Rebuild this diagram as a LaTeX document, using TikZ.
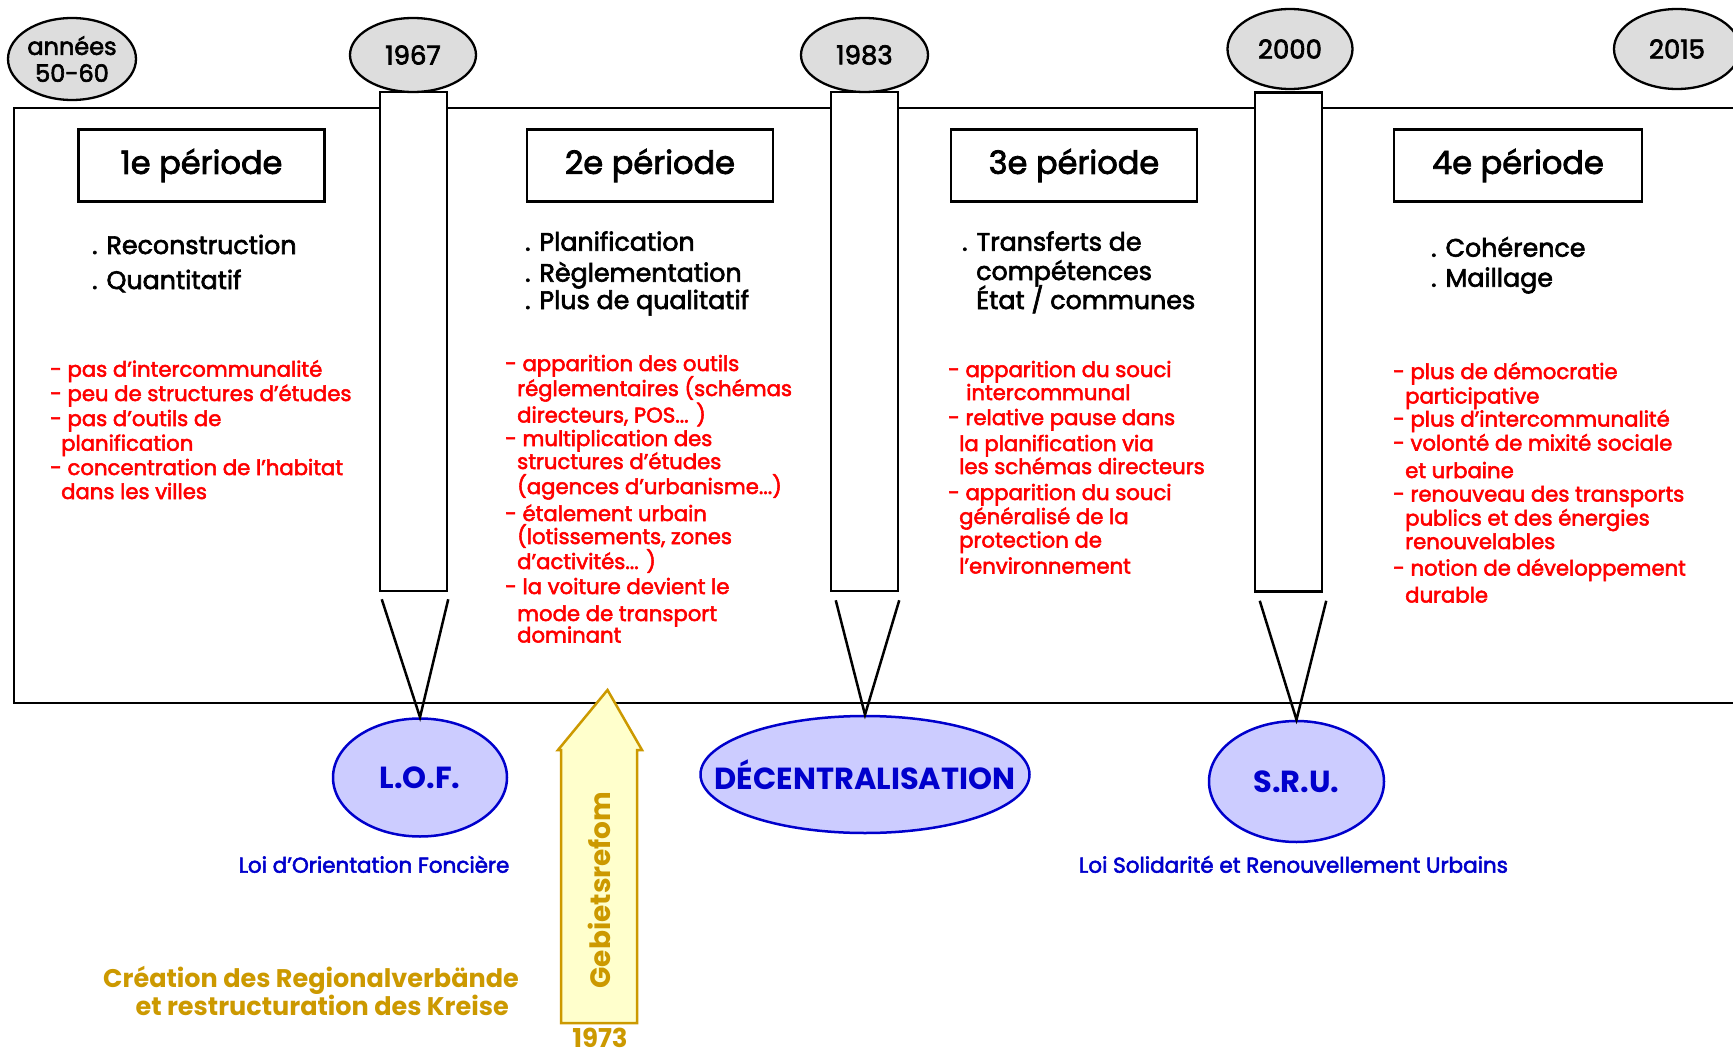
\documentclass[tikz,border=0pt]{standalone}
\usepackage{fontspec}
\usetikzlibrary{shapes.geometric,calc}
\setmainfont{Poppins}
\newfontfamily\medfont{Poppins}[FakeBold=2.5]
\newcommand\tdots{...}
\definecolor{yeargray}{RGB}{221,221,221}
\definecolor{redc}{RGB}{255,0,0}
\definecolor{lawblue}{RGB}{0,0,204}
\definecolor{lawfill}{RGB}{204,204,255}
\definecolor{goldc}{RGB}{204,153,0}
\definecolor{goldfill}{RGB}{255,255,204}
\tikzset{
  yearell/.style={ellipse, draw=black, line width=2.3pt, fill=yeargray, inner sep=0pt,
    font=\medfont\fontsize{26}{27}\selectfont, align=center},
  pillar/.style={rectangle, draw=black, line width=2.5pt, fill=white, inner sep=0pt},
  periodbox/.style={rectangle, draw=black, line width=2.5pt, fill=white, inner sep=0pt,
    minimum width=246pt, minimum height=72pt, font=\medfont\fontsize{32}{34}\selectfont},
  blacktxt/.style={anchor=base west, inner sep=0pt, font=\medfont\fontsize{25.3}{28}\selectfont},
  redtxt/.style={anchor=base west, inner sep=0pt, text=redc, font=\medfont\fontsize{21.2}{24}\selectfont},
  lawell/.style={ellipse, draw=lawblue, line width=2.5pt, fill=lawfill, inner sep=0pt,
    text=lawblue, font=\rmfamily\bfseries\fontsize{30.5}{32}\selectfont},
  lawcap/.style={anchor=base, inner sep=0pt, text=lawblue, font=\medfont\fontsize{21.5}{24}\selectfont},
  goldtxt/.style={inner sep=0pt, text=goldc, font=\rmfamily\bfseries\fontsize{25.5}{28.5}\selectfont},
  goldline/.style={draw=goldc, line width=2.5pt, fill=goldfill, line join=miter},
  vline/.style={draw=black, line width=2.5pt},
}
\begin{document}
\begin{tikzpicture}[x=1pt,y=-1pt]
\useasboundingbox (0,0) rectangle (1733,1054);
\clip (0,0) rectangle (1733,1054);
\fill[white] (0,0) rectangle (1733,1054);

% main frame
\draw[line width=2.5pt] (14,108) rectangle (1780,703);

% pillars
\node[pillar, minimum width=67pt, minimum height=499pt] (p1967) at (413.5,341.5) {};
\node[pillar, minimum width=67pt, minimum height=499pt] (p1983) at (864.5,341.5) {};
\node[pillar, minimum width=67pt, minimum height=499pt] (p2000) at (1288.5,342) {};

% year ellipses
\node[yearell, minimum width=128pt, minimum height=82pt, font=\medfont\fontsize{24}{27}\selectfont] (y5060) at (72,59) {années\\50-60};
\node[yearell, minimum width=126pt, minimum height=74pt] (y1967) at (413,55) {1967};
\node[yearell, minimum width=127pt, minimum height=74pt] (y1983) at (864.5,55) {1983};
\node[yearell, minimum width=125pt, minimum height=80pt] (y2000) at (1290,49) {2000};
\node[yearell, minimum width=126pt, minimum height=80pt] (y2015) at (1677,49) {2015};

% period boxes
\node[periodbox] (per1) at (201.5,165.5) {1e période};
\node[periodbox] (per2) at (650,165.5) {2e période};
\node[periodbox] (per3) at (1074,165.5) {3e période};
\node[periodbox, minimum width=248pt] (per4) at (1518,165.5) {4e période};

% black lists
\node[blacktxt] (b11) at (92,254) {. Reconstruction};
\node[blacktxt] (b12) at (92,289) {. Quantitatif};
\node[blacktxt] (b21) at (525,250.7) {. Planification};
\node[blacktxt] (b22) at (525,281.7) {. Règlementation};
\node[blacktxt] (b23) at (525,309) {. Plus de qualitatif};
\node[blacktxt] (b31) at (962,250.7) {. Transferts de};
\node[blacktxt] (b32) at (976,280) {compétences};
\node[blacktxt] (b33) at (976,309) {État / communes};
\node[blacktxt] (b41) at (1431,256.7) {. Cohérence};
\node[blacktxt] (b42) at (1431,286.7) {. Maillage};

% red lists
\foreach[count=\i] \txt/\xx/\yy in {
  {- pas d’intercommunalité}/50/376.7,
  {- peu de structures d’études}/50/401,
  {- pas d’outils de}/50/426,
  {planification}/61/450.7,
  {- concentration de l’habitat}/50/475,
  {dans les villes}/61/499}
  \node[redtxt] (ra\i) at (\xx,\yy) {\txt};

\foreach[count=\i] \txt/\xx/\yy in {
  {- apparition des outils}/505/371,
  {réglementaires (schémas}/517/396,
  {directeurs, POS\tdots{} )}/517/422.5,
  {- multiplication des}/505/446,
  {structures d’études}/517/469,
  {(agences d’urbanisme\tdots)}/517/494,
  {- étalement urbain}/505/521,
  {(lotissements, zones}/517/544,
  {d’activités\tdots{} )}/517/569,
  {- la voiture devient le}/505/594,
  {mode de transport}/517/621,
  {dominant}/517/642.5}
  \node[redtxt] (rb\i) at (\xx,\yy) {\txt};

\foreach[count=\i] \txt/\xx/\yy in {
  {- apparition du souci}/948/377,
  {intercommunal}/966/400,
  {- relative pause dans}/948/425,
  {la planification via}/959/451,
  {les schémas directeurs}/959/474,
  {- apparition du souci}/948/500,
  {généralisé de la}/959/524,
  {protection de}/959/547.5,
  {l’environnement}/959/573.5}
  \node[redtxt] (rc\i) at (\xx,\yy) {\txt};

\foreach[count=\i] \txt/\xx/\yy in {
  {- plus de démocratie}/1393/379,
  {participative}/1405/403.5,
  {- plus d’intercommunalité}/1393/426.5,
  {- volonté de mixité sociale}/1393/450.5,
  {et urbaine}/1405/478,
  {- renouveau des transports}/1393/501.5,
  {publics et des énergies}/1405/525.5,
  {renouvelables}/1405/549,
  {- notion de développement}/1393/575.5,
  {durable}/1405/602.5}
  \node[redtxt] (rd\i) at (\xx,\yy) {\txt};

% law ellipses (text boxed to zero width so the ellipse keeps its size)
\node[lawell, minimum width=174pt, minimum height=118pt] (lof) at (420,777.5) {\makebox[0pt]{L.O.F.}};
\node[lawell, minimum width=329pt, minimum height=117pt] (dec) at (865,774.5) {\makebox[0pt]{DÉCENTRALISATION}};
\node[lawell, minimum width=175pt, minimum height=121pt] (sru) at (1296.5,781.5) {\makebox[0pt]{S.R.U.}};

% V connectors
\draw[vline] ($(p1967.south west)+(3,7)$) -- (lof.north) -- ($(p1967.south east)+(0,7)$);
\draw[vline] ($(p1983.south west)+(6,8)$) -- (dec.north) -- ($(p1983.south east)+(0,8)$);
\draw[vline] ($(p2000.south west)+(6,8)$) -- (sru.north) -- ($(p2000.south east)+(3,8)$);

% law captions
\node[lawcap] (lofcap) at (374,872.7) {Loi d’Orientation Foncière};
\node[lawcap] (srucap) at (1293.5,872.7) {Loi Solidarité et Renouvellement Urbains};

% Gebietsreform arrow
\draw[goldline] (561,1023) -- (561,750) -- (558,750) -- (607.5,690) -- (642,750) -- (637,750) -- (637,1023) -- cycle;
\node[goldtxt, rotate=90, font=\rmfamily\bfseries\fontsize{28}{30}\selectfont] (gebiet) at (599,890) {Gebietsrefom};
\node[goldtxt, anchor=base, font=\rmfamily\bfseries\fontsize{26}{28}\selectfont] (y1973) at (600,1047.5) {1973};
\node[goldtxt, anchor=north east, align=right] (regio) at (519,966) {Création des Regionalverbände\\et restructuration des Kreise\hspace*{10pt}};
\end{tikzpicture}
\end{document}
